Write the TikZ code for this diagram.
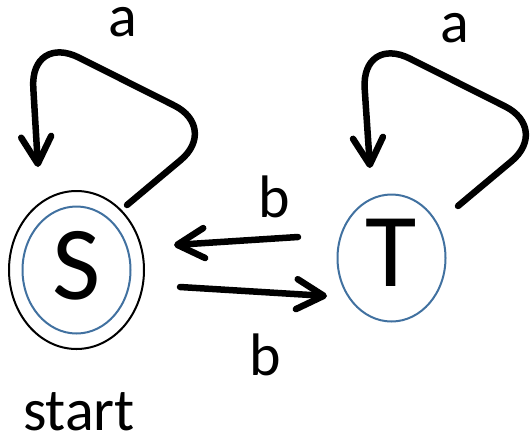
\documentclass[tikz,border=0pt]{standalone}
\usepackage{fontspec}
\setmainfont{Carlito}
\usepackage{xcolor}
\usetikzlibrary{shapes, arrows.meta}

\definecolor{stateblue}{RGB}{65,113,160}

\tikzset{
    state/.style={ellipse, draw=stateblue, line width=2pt, inner sep=0pt,
        minimum width=108pt, minimum height=127pt, text depth=10pt,
        font=\fontsize{105}{120}\selectfont},
    trans/.style={line width=6.5pt, line cap=round, line join=round,
        -{Straight Barb[length=27pt, width=30pt, line cap=round, line join=round]}},
    lab/.style={anchor=base, inner sep=0pt, font=\fontsize{60}{72}\selectfont}
}

\begin{document}
\begin{tikzpicture}[x=1pt, y=-1pt]
        \useasboundingbox (0, 0) rectangle (530, 437);

        \node[state] (S) at (76.5, 270) {S};
        \node[ellipse, draw, line width=2pt, minimum width=135pt, minimum height=158pt] (Sacc) at (76.5, 270) {};
        \node[state] (T) at (391.5, 258) {T};

        \node[lab] (start) at (79, 430) {start};
        \node[lab] (aS) at (123, 36) {a};
        \node[lab] (aT) at (455, 42) {a};
        \node[lab] (bTS) at (274, 217) {b};
        \node[lab] (bST) at (265, 375) {b};

        % loop corners and free ends
        \coordinate (loopS1) at (127, 205);
        \coordinate (loopS2) at (219, 128);
        \coordinate (loopS3) at (30, 33);
        \coordinate (loopS4) at (38, 167);
        \coordinate (loopT1) at (458, 206);
        \coordinate (loopT2) at (550, 129);
        \coordinate (loopT3) at (361, 34);
        \coordinate (loopT4) at (370, 168);
        \coordinate (fromT) at (298, 237);
        \coordinate (toS) at (174, 245);
        \coordinate (fromS) at (180, 287);
        \coordinate (toT) at (327, 296);

        \draw[trans] (loopS1) [rounded corners=50pt] -- (loopS2) [rounded corners=55pt] -- (loopS3) [sharp corners] -- (loopS4);
        \draw[trans] (loopT1) [rounded corners=50pt] -- (loopT2) [rounded corners=55pt] -- (loopT3) [sharp corners] -- (loopT4);
        \draw[trans] (fromT) -- (toS);
        \draw[trans] (fromS) -- (toT);
    \end{tikzpicture}
\end{document}
